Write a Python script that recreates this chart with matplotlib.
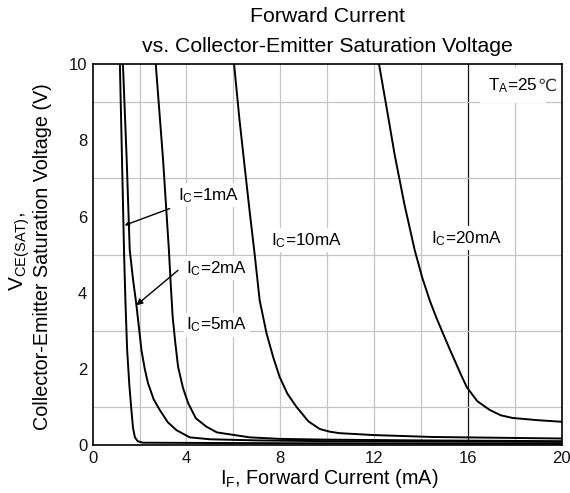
import matplotlib
matplotlib.use("Agg")
import matplotlib.pyplot as plt

plt.rcParams['font.family'] = ['Liberation Sans', 'DejaVu Sans']
plt.rcParams['mathtext.fontset'] = 'custom'
plt.rcParams['mathtext.rm'] = 'Liberation Sans'
plt.rcParams['mathtext.it'] = 'Liberation Sans:italic'
plt.rcParams['mathtext.bf'] = 'Liberation Sans:bold'

# ---- data ----
ic1_x = [1.16, 1.34, 1.40, 1.47, 1.56, 1.65, 1.72, 1.80, 1.92, 2.13, 6, 12, 20]
ic1_y = [10, 5.0, 3.7, 2.49, 1.6, 0.92, 0.45, 0.2, 0.1, 0.06, 0.05, 0.04, 0.03]

ic2_x = [1.29, 1.45, 1.58, 1.72, 1.86, 2.08, 2.22, 2.36, 2.6, 2.86, 3.2, 3.57, 4.14, 5, 7, 10, 14, 20]
ic2_y = [10, 7.5, 5.12, 4.35, 3.7, 2.49, 2.0, 1.62, 1.2, 0.92, 0.6, 0.39, 0.2, 0.15, 0.12, 0.1, 0.09, 0.08]

ic5_x = [2.69, 3.0, 3.25, 3.33, 3.41, 3.52, 3.64, 3.85, 4.07, 4.4, 4.85, 5.3, 5.84, 6.7, 8, 10, 14, 20]
ic5_y = [10, 7.5, 5.12, 4.2, 3.37, 2.7, 2.06, 1.5, 1.1, 0.7, 0.48, 0.33, 0.28, 0.2, 0.16, 0.14, 0.12, 0.1]

ic10_x = [6.03, 6.25, 6.5, 6.7, 6.91, 7.12, 7.41, 7.7, 7.97, 8.3, 8.69, 9.2, 9.68, 10.1, 10.53, 12, 14.5, 20]
ic10_y = [10, 8.6, 7.2, 6.1, 4.99, 3.8, 2.94, 2.3, 1.79, 1.35, 1.0, 0.62, 0.42, 0.35, 0.31, 0.26, 0.21, 0.17]

ic20_x = [12.21, 12.55, 12.88, 13.3, 13.73, 14.05, 14.37, 14.65, 14.93, 15.2, 15.45, 15.7, 15.95,
          16.4, 16.93, 17.4, 17.9, 19, 20]
ic20_y = [10, 8.8, 7.61, 6.3, 5.12, 4.4, 3.8, 3.35, 2.94, 2.55, 2.2, 1.85, 1.52,
          1.15, 0.92, 0.78, 0.71, 0.65, 0.61]

x_ticks = [0, 4, 8, 12, 16, 20]
y_ticks = [0, 2, 4, 6, 8, 10]
x_grid = [2, 4, 6, 8, 10, 12, 14, 18]
x_grid_dark = [16]
y_grid = [1, 3, 5, 7, 9]

# ---- figure ----
fig = plt.figure(figsize=(5.70, 4.93), dpi=100)
ax = fig.add_axes([0.1626, 0.0974, 0.8229, 0.7722])
ax.set_xlim(0, 20)
ax.set_ylim(0, 10)

for gx in x_grid:
    ax.axvline(gx, color='#c4c4c4', lw=0.9, zorder=0)
for gx in x_grid_dark:
    ax.axvline(gx, color='#111111', lw=0.9, zorder=0)
for gy in y_grid:
    ax.axhline(gy, color='#c4c4c4', lw=0.9, zorder=0)

for xs, ys in [(ic1_x, ic1_y), (ic2_x, ic2_y), (ic5_x, ic5_y),
               (ic10_x, ic10_y), (ic20_x, ic20_y)]:
    ax.plot(xs, ys, color='black', lw=1.4, zorder=3, solid_joinstyle='round')

ax.set_xticks(x_ticks)
ax.set_yticks(y_ticks)
ax.tick_params(length=0, labelsize=12, pad=4, colors='#111111')
for s in ax.spines.values():
    s.set_linewidth(1.2)
    s.set_color('black')

box = dict(facecolor='white', edgecolor='none', pad=2)
fs = 12.3
ax.text(3.63, 6.56, r'I$_\mathrm{C}$=1mA', fontsize=fs, ha='left', va='center', bbox=box, zorder=2)
ax.text(4.0, 4.64, r'I$_\mathrm{C}$=2mA', fontsize=fs, ha='left', va='center', bbox=box, zorder=2)
ax.text(4.0, 3.15, r'I$_\mathrm{C}$=5mA', fontsize=fs, ha='left', va='center', bbox=box, zorder=2)
ax.text(7.62, 5.38, r'I$_\mathrm{C}$=10mA', fontsize=fs, ha='left', va='center', bbox=box, zorder=2)
ax.text(14.44, 5.43, r'I$_\mathrm{C}$=20mA', fontsize=fs, ha='left', va='center', bbox=box, zorder=2)
t_a = ax.text(16.86, 9.45, r'T$_\mathrm{A}$=25', fontsize=fs, ha='left', va='center',
              bbox=dict(facecolor='white', edgecolor='none', pad=6), zorder=2)
ax.annotate('℃', xy=(1.0, 0.0), xycoords=t_a, ha='left', va='bottom',
            fontsize=fs, family=['DejaVu Sans'], color='#333333', zorder=2)

ax.annotate('', xy=(1.36, 5.77), xytext=(3.28, 6.21),
            arrowprops=dict(arrowstyle='-|>', color='black', lw=1.0,
                            mutation_scale=6, shrinkA=0, shrinkB=0), zorder=4)
ax.annotate('', xy=(1.86, 3.67), xytext=(3.64, 4.59),
            arrowprops=dict(arrowstyle='-|>', color='black', lw=1.0,
                            mutation_scale=9, shrinkA=0, shrinkB=0), zorder=4)

fig.text(0.574, 1 - 17 / 493, 'Forward Current', fontsize=15.3, ha='center', va='center')
fig.text(0.574, 1 - 46 / 493, 'vs. Collector-Emitter Saturation Voltage', fontsize=15.3,
         ha='center', va='center')

fig.text(0.578, 1 - 478 / 493, r'I$_\mathrm{F}$, Forward Current (mA)', fontsize=14.2,
         ha='center', va='center')
fig.text(20 / 570, 1 - 252 / 493, r'V$_\mathrm{CE(SAT)}$,', fontsize=15, rotation=90,
         ha='center', va='center')
fig.text(43 / 570, 1 - 257 / 493, 'Collector-Emitter Saturation Voltage (V)', fontsize=14.2,
         rotation=90, ha='center', va='center')

fig.savefig('out.png', dpi=100)
